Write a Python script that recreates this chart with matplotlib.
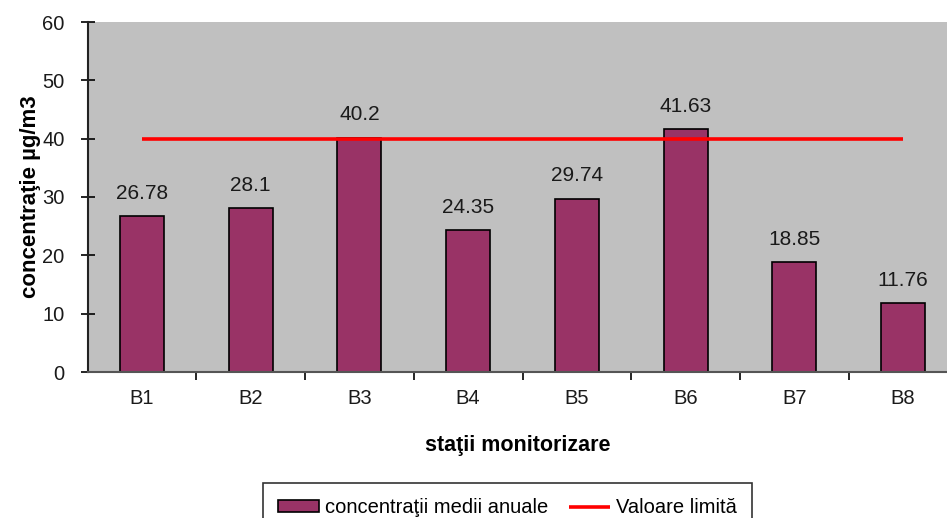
import matplotlib.pyplot as plt
import numpy as np

plt.rcParams['font.family'] = ['Liberation Sans', 'DejaVu Sans']

stations = ['B1', 'B2', 'B3', 'B4', 'B5', 'B6', 'B7', 'B8']
conc = [26.78, 28.1, 40.2, 24.35, 29.74, 41.63, 18.85, 11.76]
limit = [40] * len(stations)

fig = plt.figure(figsize=(9.47, 5.18), dpi=100)
ax = fig.add_axes([88 / 947, 1 - 372 / 518, 859 / 947, 350 / 518])
ax.set_facecolor('#c0c0c0')

x = np.arange(len(stations))
bars = ax.bar(x, conc, width=0.405, color='#993366', edgecolor='black',
              linewidth=1.2, label='concentraţii medii anuale', zorder=2)
line, = ax.plot(x, limit, color='#ff0000', linewidth=2.6, label='Valoare limită',
                solid_capstyle='butt', zorder=3)

for xi, v in zip(x, conc):
    ax.text(xi, v + 3.9, f'{v:g}', ha='center', va='center', fontsize=15, color='#1a1a1a')

ax.set_yticks(range(0, 61, 10))
ax.set_xticks(x)
ax.set_xticklabels(stations, fontsize=14.5, color='#1a1a1a')
ax.set_xticks(np.arange(-0.5, len(stations), 1.0), minor=True)
# set limits after ticks, set_xticks would widen them
ax.set_xlim(-0.497, 7.405)
ax.set_ylim(0, 60)
ax.tick_params(axis='x', which='major', length=0, pad=12)
ax.tick_params(axis='x', which='minor', length=6, width=1.2, direction='out')
ax.tick_params(axis='y', labelsize=14.5, labelcolor='#1a1a1a', length=10,
               width=1.2, direction='inout', pad=12)

for s in ['top', 'right']:
    ax.spines[s].set_visible(False)
ax.spines['left'].set_linewidth(1.5)
ax.spines['bottom'].set_linewidth(1.5)
ax.spines['left'].set_color('#222222')
ax.spines['bottom'].set_color('#555555')

ax.set_xlabel('staţii monitorizare', fontsize=15.5, fontweight='bold', labelpad=20)
ax.set_ylabel('concentraţie µg/m3', fontsize=16, fontweight='bold', labelpad=1)

leg = fig.legend([bars, line], ['concentraţii medii anuale', 'Valoare limită'],
                 loc='upper left', bbox_to_anchor=(263 / 947, 1 - 483 / 518), ncol=2,
                 fontsize=14.5, frameon=True, fancybox=False, edgecolor='black',
                 handlelength=2.05, handleheight=0.5, columnspacing=1.0,
                 handletextpad=0.3, borderpad=0.75, borderaxespad=0)
leg.get_frame().set_linewidth(1.2)

fig.savefig('out.png', dpi=100)
